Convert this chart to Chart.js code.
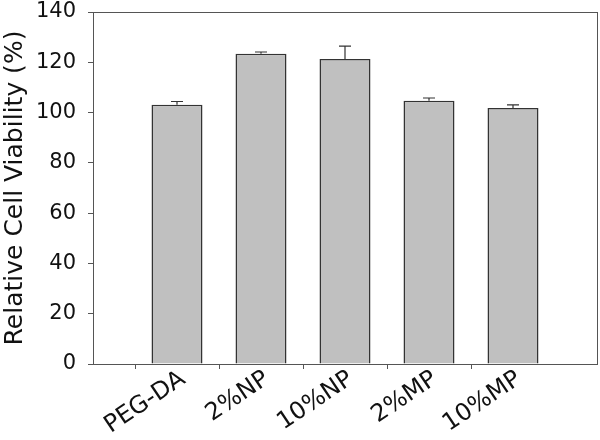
<!DOCTYPE html>
<html><head><meta charset="utf-8">
<script src="https://cdn.jsdelivr.net/npm/chart.js@4/dist/chart.umd.min.js"></script>
<style>html,body{margin:0;padding:0;background:#fff}#wrap{width:600px;height:440px}</style>
</head><body><div id="wrap"><canvas id="c" width="600" height="440"></canvas></div>
<script>
const categories = ['PEG-DA', '2%NP', '10%NP', '2%MP', '10%MP'];
const viability = [103.1, 123.4, 121.3, 104.7, 101.8];
const errorUp = [1.3, 0.7, 5.1, 1.1, 1.3];
const yTicks = [0, 20, 40, 60, 80, 100, 120, 140];

const labels = [''].concat(categories, ['']);
const dataVals = [null].concat(viability, [null]);
const errVals = [null].concat(errorUp, [null]);

const frameAndErrors = {
  id: 'frameAndErrors',
  afterDatasetsDraw(chart) {
    const ctx = chart.ctx, ca = chart.chartArea;
    const xs = chart.scales.x, ys = chart.scales.y;
    ctx.save();
    ctx.strokeStyle = '#333';
    ctx.lineWidth = 1.2;
    dataVals.forEach((v, i) => {
      if (v == null) return;
      const x = xs.getPixelForValue(i);
      const y0 = ys.getPixelForValue(v);
      const y1 = ys.getPixelForValue(v + errVals[i]);
      ctx.beginPath();
      ctx.moveTo(x, y0); ctx.lineTo(x, y1);
      ctx.moveTo(x - 6, y1); ctx.lineTo(x + 6, y1);
      ctx.stroke();
    });
    ctx.strokeStyle = '#555';
    ctx.lineWidth = 1;
    ctx.strokeRect(Math.round(ca.left) + 0.5, Math.round(ca.top) + 0.5, Math.round(ca.right - ca.left), Math.round(ca.bottom - ca.top));
    ctx.restore();
  }
};

new Chart(document.getElementById('c'), {
  type: 'bar',
  data: {
    labels: labels,
    datasets: [{
      data: dataVals,
      backgroundColor: '#c0c0c0',
      borderColor: '#333',
      borderWidth: 1.5,
      categoryPercentage: 1,
      barPercentage: 0.607
    }]
  },
  options: {
    responsive: false,
    animation: false,
    devicePixelRatio: 1,
    layout: { padding: { top: 12, right: 3, left: 0, bottom: 0 } },
    plugins: { legend: { display: false }, tooltip: { enabled: false } },
    scales: {
      x: {
        offset: false,
        grid: {
          drawOnChartArea: false, drawTicks: true, tickLength: 5,
          color: (c) => (c.index === 0 || c.index === labels.length - 1) ? 'rgba(0,0,0,0)' : '#555'
        },
        border: { color: '#555' },
        ticks: {
          color: '#111', maxRotation: 34, minRotation: 34, autoSkip: false, padding: -4, labelOffset: 6,
          font: { family: 'DejaVu Sans', size: 24 }
        },
        afterFit(s) { s.height = 76; s.paddingLeft = 0; s.paddingRight = 0; }
      },
      y: {
        min: 0, max: 140,
        afterBuildTicks(s) { s.ticks = yTicks.map(v => ({ value: v })); },
        grid: { drawOnChartArea: false, drawTicks: true, tickLength: 5, color: '#555' },
        border: { color: '#555' },
        ticks: { color: '#111', padding: 12, font: { family: 'DejaVu Sans', size: 21 } },
        title: {
          display: true, text: 'Relative Cell Viability (%)', color: '#111',
          font: { family: 'DejaVu Sans', size: 25 }, padding: { top: 0, bottom: 0 }
        },
        afterFit(s) { s.width = 93; s.paddingTop = 0; s.paddingBottom = 0; }
      }
    }
  },
  plugins: [frameAndErrors]
});
</script></body></html>
